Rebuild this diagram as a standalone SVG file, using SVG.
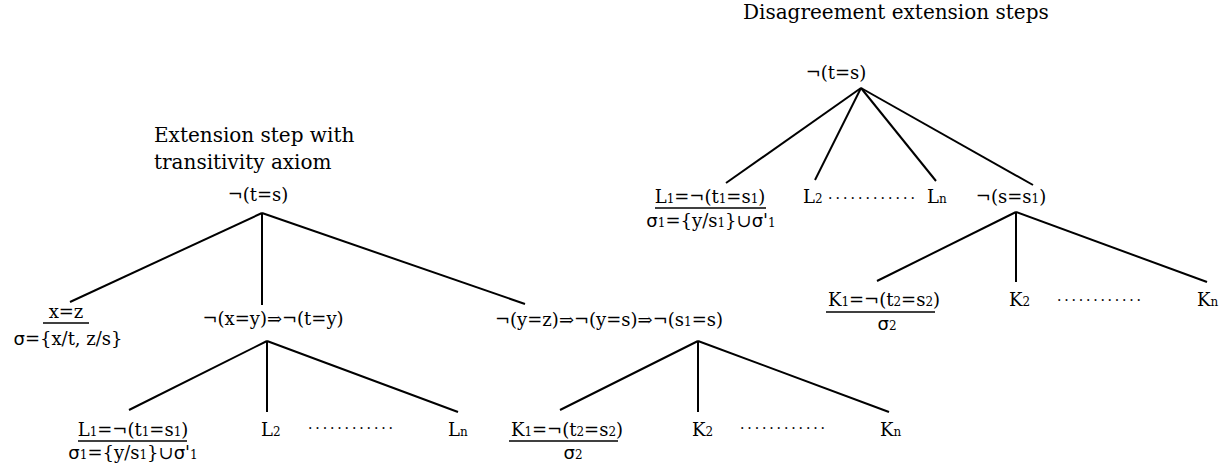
<svg xmlns="http://www.w3.org/2000/svg" width="1232" height="470" viewBox="0 0 1232 470">
<style>
text{font-family:"DejaVu Serif","Liberation Serif",serif;font-size:18px;fill:#000}
.t{font-size:20px}
.m{text-anchor:middle}
.s{font-size:12px}
.g{font-family:"DejaVu Sans","Liberation Sans",sans-serif}
.d{font-size:14px}
line{stroke:#000;stroke-width:2}
.u{stroke-width:1.6}
</style>
<rect width="1232" height="470" fill="#fff"/>
<g id="connectors">
<line x1="262" y1="213" x2="70" y2="302"/>
<line x1="262" y1="213" x2="262" y2="305"/>
<line x1="262" y1="213" x2="525" y2="304"/>
<line x1="267" y1="341" x2="129" y2="410"/>
<line x1="267" y1="341" x2="267" y2="412"/>
<line x1="267" y1="341" x2="458" y2="412"/>
<line x1="698" y1="341" x2="560" y2="410"/>
<line x1="698" y1="341" x2="698" y2="412"/>
<line x1="698" y1="341" x2="889" y2="412"/>
<line x1="861" y1="88" x2="726" y2="183"/>
<line x1="861" y1="88" x2="815" y2="180"/>
<line x1="861" y1="88" x2="936" y2="181"/>
<line x1="861" y1="88" x2="1033" y2="185"/>
<line x1="1016" y1="212" x2="877" y2="281"/>
<line x1="1016" y1="212" x2="1016" y2="282"/>
<line x1="1016" y1="212" x2="1207" y2="282"/>
</g>
<g id="title-left">
<text class="t" x="154" y="142">Extension step with</text>
<text class="t" x="154" y="169">transitivity axiom</text>
</g>
<g id="title-right">
<text class="t" x="743" y="19">Disagreement extension steps</text>
</g>
<g id="left-root"><text class="m" x="258" y="201">¬(t=s)</text></g>
<g id="left-xz">
<text class="m" x="66" y="318">x=z</text>
<line class="u" x1="43" y1="323" x2="89" y2="323"/>
<text class="m" x="68" y="345"><tspan class="g">σ</tspan>={x/t, z/s}</text>
</g>
<g id="left-mid"><text class="m" x="273" y="325">¬(x=y)⇒¬(t=y)</text></g>
<g id="left-right"><text class="m" x="609" y="326">¬(y=z)⇒¬(y=s)⇒¬(s<tspan class="s">1</tspan>=s)</text></g>
<g id="bl-L1">
<text class="m" x="133" y="436">L<tspan class="s">1</tspan>=¬(t<tspan class="s">1</tspan>=s<tspan class="s">1</tspan>)</text>
<line class="u" x1="78" y1="441" x2="187" y2="441"/>
<text class="m" x="133" y="459"><tspan class="g">σ</tspan><tspan class="s">1</tspan>={y/s<tspan class="s">1</tspan>}∪<tspan class="g">σ</tspan>'<tspan class="s">1</tspan></text>
</g>
<g id="bl-L2"><text x="261" y="436">L<tspan class="s">2</tspan></text></g>
<g id="bl-dots"><text class="d" x="308" y="429" textLength="85" lengthAdjust="spacing">............</text></g>
<g id="bl-Ln"><text x="448" y="436">L<tspan class="s">n</tspan></text></g>
<g id="bm-K1">
<text class="m" x="567" y="436">K<tspan class="s">1</tspan>=¬(t<tspan class="s">2</tspan>=s<tspan class="s">2</tspan>)</text>
<line class="u" x1="509" y1="441" x2="618" y2="441"/>
<text class="m" x="573" y="459"><tspan class="g">σ</tspan><tspan class="s">2</tspan></text>
</g>
<g id="bm-K2"><text x="692" y="436">K<tspan class="s">2</tspan></text></g>
<g id="bm-dots"><text class="d" x="740" y="429" textLength="85" lengthAdjust="spacing">............</text></g>
<g id="bm-Kn"><text x="880" y="436">K<tspan class="s">n</tspan></text></g>
<g id="right-root"><text class="m" x="836" y="79">¬(t=s)</text></g>
<g id="r-L1">
<text class="m" x="710" y="203">L<tspan class="s">1</tspan>=¬(t<tspan class="s">1</tspan>=s<tspan class="s">1</tspan>)</text>
<line class="u" x1="655" y1="208" x2="766" y2="208"/>
<text class="m" x="711" y="227"><tspan class="g">σ</tspan><tspan class="s">1</tspan>={y/s<tspan class="s">1</tspan>}∪<tspan class="g">σ</tspan>'<tspan class="s">1</tspan></text>
</g>
<g id="r-L2"><text x="803" y="203">L<tspan class="s">2</tspan></text></g>
<g id="r-dots"><text class="d" x="828" y="199" textLength="87" lengthAdjust="spacing">............</text></g>
<g id="r-Ln"><text x="927" y="203">L<tspan class="s">n</tspan></text></g>
<g id="r-ss1"><text class="m" x="1011" y="203">¬(s=s<tspan class="s">1</tspan>)</text></g>
<g id="rr-K1">
<text class="m" x="884" y="306">K<tspan class="s">1</tspan>=¬(t<tspan class="s">2</tspan>=s<tspan class="s">2</tspan>)</text>
<line class="u" x1="826" y1="312" x2="935" y2="312"/>
<text class="m" x="887" y="330"><tspan class="g">σ</tspan><tspan class="s">2</tspan></text>
</g>
<g id="rr-K2"><text x="1009" y="306">K<tspan class="s">2</tspan></text></g>
<g id="rr-dots"><text class="d" x="1057" y="301" textLength="84" lengthAdjust="spacing">............</text></g>
<g id="rr-Kn"><text x="1197" y="306">K<tspan class="s">n</tspan></text></g>
</svg>
